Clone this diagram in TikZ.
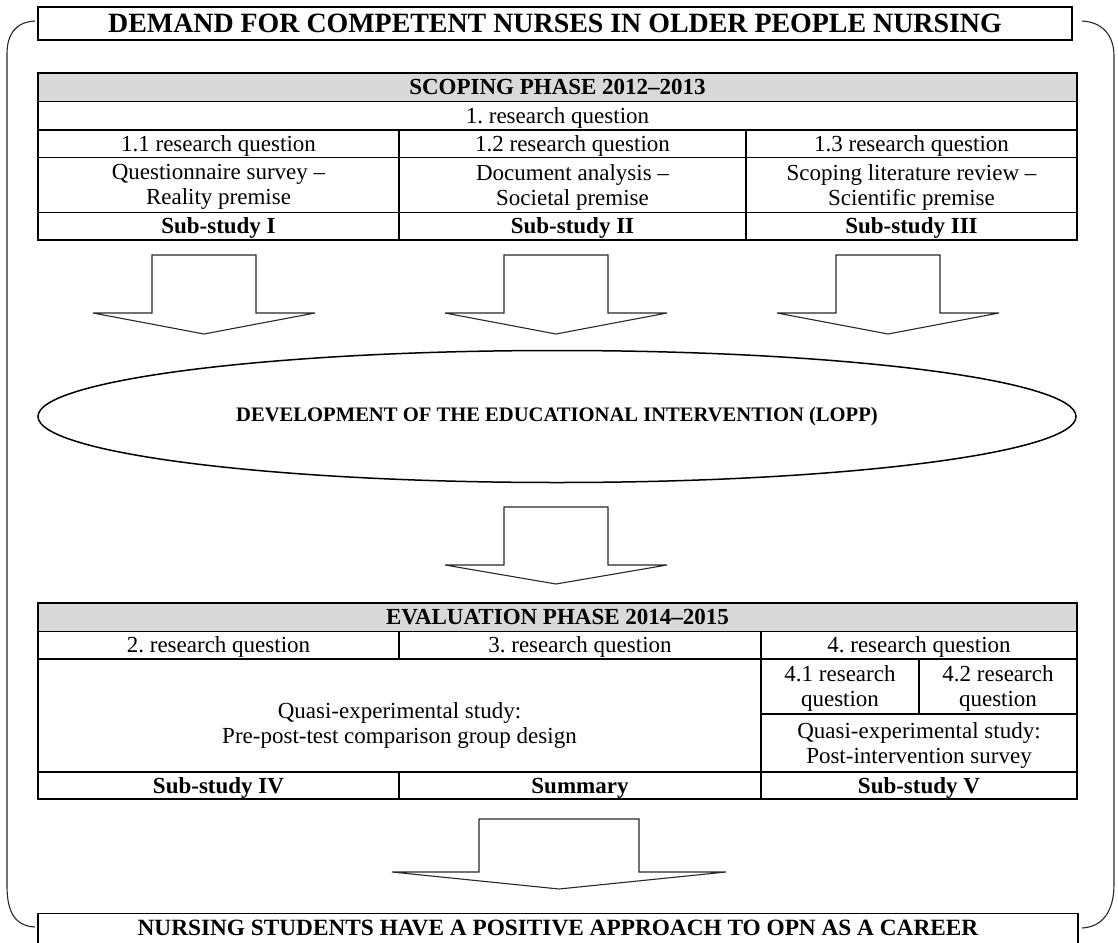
\documentclass[tikz,border=0pt]{standalone}
\usepackage{fontspec}
\setmainfont{Liberation Serif}
\usetikzlibrary{shapes.geometric}
\definecolor{headgray}{RGB}{217,217,217}
\definecolor{inkgray}{RGB}{40,40,40}

% block arrow pointing down: centre x, top y, shaft half width, wing half width, shoulder y, tip y
\newcommand\blockdown[6]{%
  \draw[arrowline] ({#1-#3},#2) -- ({#1+#3},#2) -- ({#1+#3},#5) -- ({#1+#4},#5)
    -- (#1,#6) -- ({#1-#4},#5) -- ({#1-#3},#5) -- cycle;}

\begin{document}
\frenchspacing
\begin{tikzpicture}[x=1pt,y=-1pt,
  tline/.style={line width=1.6pt},
  arrowline/.style={line width=1.1pt,draw=inkgray,line join=miter},
  bracket/.style={line width=1.1pt,draw=inkgray},
  cell/.style={font=\fontsize{23}{25}\selectfont,inner sep=0pt,text height=16.5pt,text depth=1.5pt},
  cellb/.style={cell,font=\bfseries\fontsize{23}{25}\selectfont},
  cell2/.style={font=\fontsize{23}{25}\selectfont,inner sep=0pt,align=center},
]
\useasboundingbox (0,0) rectangle (1118,942);
\clip (0,0) rectangle (1118,942);

% heading and outcome boxes
\node[draw,line width=1.8pt,minimum width=1034pt,minimum height=33pt,inner sep=0pt,
      font=\bfseries\fontsize{27.9}{30}\selectfont] (title) at (555,23.5)
  {DEMAND FOR COMPETENT NURSES IN OLDER PEOPLE NURSING};
\node[draw,line width=1.8pt,minimum width=1040pt,inner sep=0pt,anchor=north,
      text height=22.5pt,text depth=30pt,
      font=\bfseries\fontsize{23.3}{25}\selectfont] (outcome) at (558,912.5)
  {NURSING STUDENTS HAVE A POSITIVE APPROACH TO OPN AS A CAREER};

% side brackets joining heading and outcome
\coordinate (lt) at (35,21);  \coordinate (lb) at (35,927);
\coordinate (rt) at (1082,21); \coordinate (rb) at (1082,928);
\draw[bracket] (lt) .. controls (15,22) and (7,35) .. (7,54) -- (7,886)
  .. controls (7,912) and (15,926) .. (lb);
\draw[bracket] (rt) .. controls (1102,22) and (1114,35) .. (1114,56) -- (1114,884)
  .. controls (1114,912) and (1102,927) .. (rb);

% scoping phase table
\fill[headgray] (38,73) rectangle (1077,101.5);
\draw[tline] (38,73) rectangle (1077,240);
\draw[tline] (38,101.5) -- (1077,101.5);
\draw[tline] (38,130) -- (1077,130);
\draw[tline] (38,157.5) -- (1077,157.5);
\draw[tline] (38,212.5) -- (1077,212.5);
\draw[tline] (399,130) -- (399,240);
\draw[tline] (746,130) -- (746,240);

\node[cellb] (scoping) at (557.5,87.25) {SCOPING PHASE 2012–2013};
\node[cell] (rq1) at (557.5,115.75) {1. research question};
\node[cell] (rq11) at (218.5,143.75) {1.1 research question};
\node[cell] (rq12) at (572.5,143.75) {1.2 research question};
\node[cell] (rq13) at (911.5,143.75) {1.3 research question};
\node[cell2] (m1) at (218.5,187.3) {Questionnaire survey –\\Reality premise};
\node[cell2] (m2) at (572.5,187.3) {Document analysis –\\Societal premise};
\node[cell2] (m3) at (911.5,187.3) {Scoping literature review –\\Scientific premise};
\node[cellb] (s1) at (218.5,226.25) {Sub-study I};
\node[cellb] (s2) at (572.5,226.25) {Sub-study II};
\node[cellb] (s3) at (911.5,226.25) {Sub-study III};

% arrows into the development phase
\blockdown{204}{255}{52}{111}{313}{334}
\blockdown{556}{255}{52}{111}{313}{334}
\blockdown{888}{255}{52}{111}{313}{334}

\node[ellipse,draw,line width=1.5pt,minimum width=1038pt,minimum height=132pt,inner sep=0pt,
      font=\bfseries\fontsize{20.6}{22}\selectfont] (dev) at (557,416.5)
  {DEVELOPMENT OF THE EDUCATIONAL INTERVENTION (LOPP)};

\blockdown{556}{507}{52}{111}{565}{584}

% evaluation phase table
\fill[headgray] (38,603) rectangle (1077,631.5);
\draw[tline] (38,603) rectangle (1077,799);
\draw[tline] (38,631.5) -- (1077,631.5);
\draw[tline] (38,659) -- (1077,659);
\draw[tline] (761,714) -- (1077,714);
\draw[tline] (38,772) -- (1077,772);
\draw[tline] (399,631.5) -- (399,659);
\draw[tline] (399,772) -- (399,799);
\draw[tline] (761,631.5) -- (761,799);
\draw[tline] (919,659) -- (919,714);

\node[cellb] (evaluation) at (557.5,617.25) {EVALUATION PHASE 2014–2015};
\node[cell] (rq2) at (218.5,645.25) {2. research question};
\node[cell] (rq3) at (580,645.25) {3. research question};
\node[cell] (rq4) at (919,645.25) {4. research question};
\node[cell2] (rq41) at (840,688.8) {4.1 research\\question};
\node[cell2] (rq42) at (998,688.8) {4.2 research\\question};
\node[cell2] (quasi1) at (399.5,725) {Quasi-experimental study:\\Pre-post-test comparison group design};
\node[cell2] (quasi2) at (919,745.3) {Quasi-experimental study:\\Post-intervention survey};
\node[cellb] (s4) at (218.5,785.75) {Sub-study IV};
\node[cellb] (sum) at (580,785.75) {Summary};
\node[cellb] (s5) at (919,785.75) {Sub-study V};

\blockdown{559}{819}{80}{167}{872}{889}
\end{tikzpicture}
\end{document}
